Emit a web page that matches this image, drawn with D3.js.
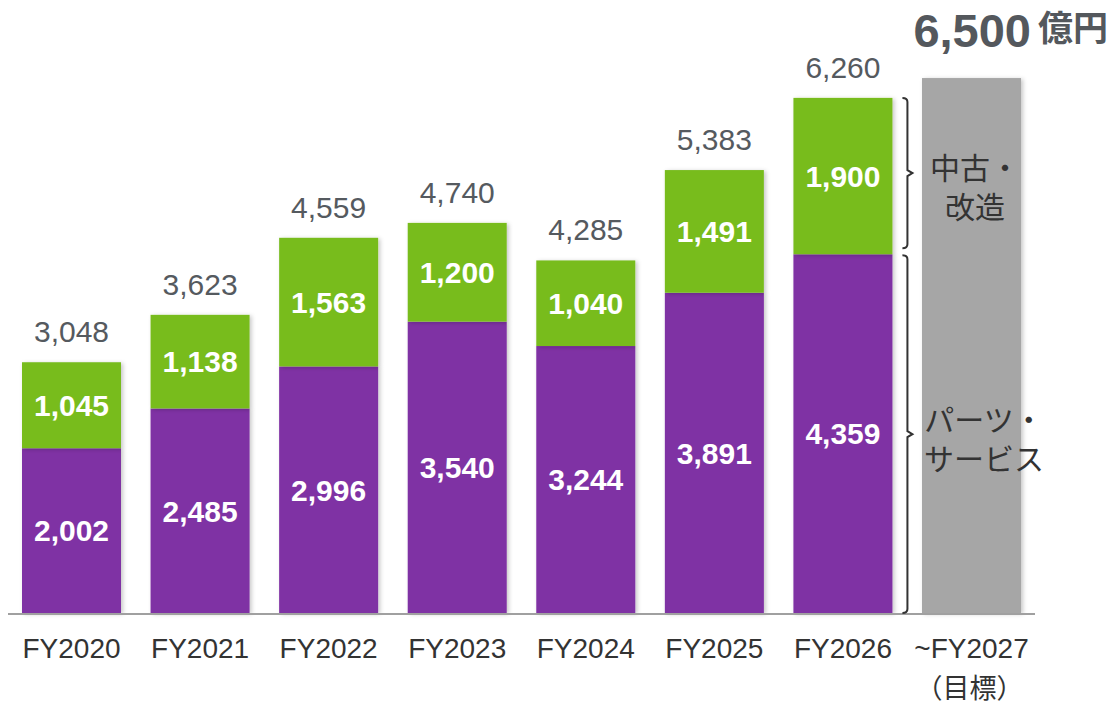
<!DOCTYPE html>
<html>
<head>
<meta charset="utf-8">
<script src="https://cdn.jsdelivr.net/npm/d3@7"></script>
<style>
  html, body { margin: 0; padding: 0; background: #fff; }
  svg { display: block; }
</style>
</head>
<body>
<svg id="chart" width="1114" height="707"></svg>
<script>
// Fiscal years with actual results
const years = ["FY2020", "FY2021", "FY2022", "FY2023", "FY2024", "FY2025", "FY2026"];
// Parts & services segment (億円)
const partsService = [2002, 2485, 2996, 3540, 3244, 3891, 4359];
// Used & refurbishment segment (億円)
const usedRefurb = [1045, 1138, 1563, 1200, 1040, 1491, 1900];
// Stated totals
const totals = [3048, 3623, 4559, 4740, 4285, 5383, 6260];
// Target
const targetLabel = "~FY2027";
const targetSub = "（目標）";
const targetValue = 6500;
const unit = "億円";
const segmentNames = [["中古・", "改造"], ["パーツ・", "サービス"]];

const svg = d3.select("#chart");
const baseY = 613;
const pxPerUnit = 0.0823;

const x = d3.scaleBand()
  .domain([...years, targetLabel])
  .range([22, 1021])
  .paddingInner(0.23)
  .paddingOuter(0);

const y = d3.scaleLinear()
  .domain([0, targetValue])
  .range([baseY, baseY - targetValue * pxPerUnit]);

const fmt = d3.format(",");
const colors = { parts: "#7f30a4", used: "#78bc1f", target: "#a6a6a6" };

const defs = svg.append("defs");
const f = defs.append("filter").attr("id", "shadow")
  .attr("x", "-10%").attr("y", "-10%").attr("width", "130%").attr("height", "130%");
f.append("feDropShadow").attr("dx", 2).attr("dy", 1).attr("stdDeviation", 2)
  .attr("flood-color", "#000").attr("flood-opacity", 0.22);

const data = years.map((yr, i) => ({ yr, parts: partsService[i], used: usedRefurb[i], total: totals[i] }));

// Target bar
svg.append("rect")
  .attr("x", x(targetLabel)).attr("width", x.bandwidth())
  .attr("y", y(targetValue)).attr("height", y(0) - y(targetValue))
  .attr("fill", colors.target).attr("filter", "url(#shadow)");

const g = svg.append("g").selectAll("g").data(data).join("g");

// Lower segment
g.append("rect")
  .attr("x", d => x(d.yr)).attr("width", x.bandwidth())
  .attr("y", d => y(d.parts)).attr("height", d => y(0) - y(d.parts))
  .attr("fill", colors.parts).attr("filter", "url(#shadow)");

// Upper segment
g.append("rect")
  .attr("x", d => x(d.yr)).attr("width", x.bandwidth())
  .attr("y", d => y(d.parts + d.used)).attr("height", d => y(d.parts) - y(d.parts + d.used))
  .attr("fill", colors.used).attr("filter", "url(#shadow)");

const numFont = "'Liberation Sans', Arial, sans-serif";
const cjkFont = "'Noto Sans CJK JP', 'Noto Sans', sans-serif";

// Segment value labels
g.append("text")
  .attr("x", d => x(d.yr) + x.bandwidth() / 2)
  .attr("y", d => (y(0) + y(d.parts)) / 2)
  .attr("dy", "0.36em")
  .attr("text-anchor", "middle")
  .attr("font-family", numFont).attr("font-weight", "bold").attr("font-size", 30)
  .attr("fill", "#fff")
  .text(d => fmt(d.parts));

g.append("text")
  .attr("x", d => x(d.yr) + x.bandwidth() / 2)
  .attr("y", d => (y(d.parts) + y(d.parts + d.used)) / 2)
  .attr("dy", "0.36em")
  .attr("text-anchor", "middle")
  .attr("font-family", numFont).attr("font-weight", "bold").attr("font-size", 30)
  .attr("fill", "#fff")
  .text(d => fmt(d.used));

// Totals above bars
g.append("text")
  .attr("x", d => x(d.yr) + x.bandwidth() / 2)
  .attr("y", d => y(d.parts + d.used) - 20)
  .attr("text-anchor", "middle")
  .attr("font-family", numFont).attr("font-size", 30)
  .attr("fill", "#555a5f")
  .text(d => fmt(d.total));

// Baseline
svg.append("line")
  .attr("x1", 8).attr("x2", 1035)
  .attr("y1", baseY + 1).attr("y2", baseY + 1)
  .attr("stroke", "#a0a0a0").attr("stroke-width", 2);

// Category axis labels
const axis = svg.append("g").attr("transform", `translate(0,${baseY})`)
  .call(d3.axisBottom(x).tickSize(0).tickPadding(0));
axis.select(".domain").remove();
axis.selectAll("text")
  .attr("y", 45).attr("dy", 0)
  .attr("font-family", numFont).attr("font-size", 28)
  .attr("fill", "#333");
svg.append("text")
  .attr("x", x(targetLabel) + x.bandwidth() / 2 - 2)
  .attr("y", 698)
  .attr("text-anchor", "middle")
  .attr("font-family", cjkFont).attr("font-size", 27)
  .attr("fill", "#333")
  .text(targetSub);

// Target value heading
svg.append("text")
  .attr("x", 1031).attr("y", 47)
  .attr("text-anchor", "end")
  .attr("font-family", numFont).attr("font-weight", "bold").attr("font-size", 47)
  .attr("fill", "#54585d")
  .text(fmt(targetValue));
svg.append("text")
  .attr("x", 1038).attr("y", 41)
  .attr("font-family", cjkFont).attr("font-weight", "bold").attr("font-size", 35)
  .attr("fill", "#54585d")
  .text(unit);

// Braces marking the two segments of the latest year
const last = data[data.length - 1];
const bx = x(last.yr) + x.bandwidth() + 15;
function brace(y0, y1) {
  const m = (y0 + y1) / 2;
  return `M${bx - 5},${y0} Q${bx},${y0} ${bx},${y0 + 4} L${bx},${m - 3} L${bx + 5},${m} L${bx},${m + 3} L${bx},${y1 - 4} Q${bx},${y1} ${bx - 5},${y1}`;
}
const split = y(last.parts);
const braces = [
  { y0: y(last.parts + last.used), y1: split - 6, lines: segmentNames[0], cx: 975, shift: 6 },
  { y0: split + 1, y1: y(0), lines: segmentNames[1], cx: 984, shift: -3 }
];
svg.append("g").selectAll("path").data(braces).join("path")
  .attr("d", d => brace(d.y0, d.y1))
  .attr("fill", "none").attr("stroke", "#333").attr("stroke-width", 2);

// Segment names, one text per line
const lines = braces.flatMap(d => d.lines.map((t, i) => ({ t, i, d })));
svg.append("g").selectAll("text").data(lines).join("text")
  .attr("text-anchor", "middle")
  .attr("font-family", cjkFont).attr("font-size", 30)
  .attr("fill", "#333")
  .attr("x", o => o.d.cx)
  .attr("y", o => (o.d.y0 + o.d.y1) / 2 + o.d.shift + (o.i === 0 ? 0 : 39))
  .text(o => o.t);
</script>
</body>
</html>
